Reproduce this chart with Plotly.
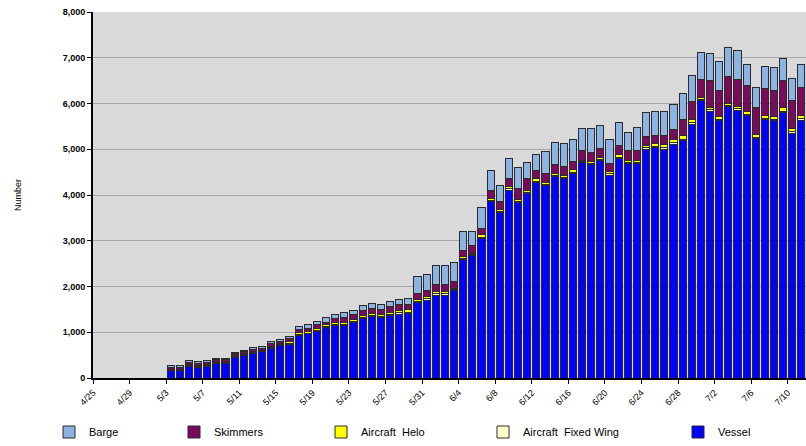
import pandas as pd
import plotly.graph_objects as go

days = (["5/%d" % d for d in range(3, 32)] + ["6/%d" % d for d in range(1, 31)]
        + ["7/%d" % d for d in range(1, 12)])

vessel = [160, 160, 248, 233, 262, 321, 321, 452, 488, 539, 576, 649, 707, 743, 940,
          962, 1027, 1107, 1137, 1151, 1209, 1304, 1341, 1319, 1362, 1399, 1414, 1647, 1690,
          1814, 1814, 1909, 2594, 2674, 3053, 3854, 3614, 4109, 3832, 4036, 4277, 4211, 4401,
          4364, 4474, 4707, 4670, 4765, 4437, 4802, 4692, 4692, 4998, 5042, 4998, 5108, 5188,
          5545, 6055,
          5836, 5625, 5931, 5858, 5741, 5231, 5654, 5625, 5800, 5348, 5639]
fixed_wing = [14, 14, 16, 15, 15, 14, 14, 14, 15, 15, 14, 17, 16, 18, 16,
              17, 21, 21, 25, 25, 25, 21, 25, 25, 25, 30, 25, 25, 37,
              25, 25, 18, 20, 18, 25, 23, 25, 23, 25, 25, 28, 25, 25,
              23, 25, 20, 23, 20, 25, 25, 25, 25, 30, 25, 39, 33, 36,
              33, 28,
              28, 30, 25, 30, 28, 30, 28, 30, 36, 36, 36]
helo = [20, 20, 25, 24, 22, 20, 20, 20, 24, 24, 20, 28, 26, 32, 28,
        28, 38, 38, 48, 48, 48, 38, 48, 48, 48, 57, 48, 48, 65,
        48, 48, 33, 38, 33, 48, 43, 48, 43, 48, 48, 52, 48, 48,
        43, 48, 38, 43, 38, 48, 48, 48, 48, 57, 48, 70, 62, 66,
        62, 52,
        52, 57, 48, 57, 52, 57, 52, 57, 66, 66, 66]
skimmers = [45, 45, 55, 50, 48, 45, 45, 45, 50, 50, 45, 60, 58, 66, 73,
            66, 73, 58, 87, 95, 102, 109, 109, 109, 124, 124, 124, 131, 131,
            160, 160, 146, 131, 168, 146, 175, 168, 175, 240, 255, 189, 189, 197,
            189, 182, 204, 197, 197, 182, 197, 197, 197, 189, 189, 197, 219, 364,
            401, 379,
            576, 583, 583, 583, 583, 597, 597, 583, 597, 605, 612]
barge = [30, 30, 35, 35, 32, 30, 30, 30, 35, 35, 30, 40, 38, 45, 73,
         87, 87, 102, 102, 109, 102, 102, 109, 109, 109, 109, 117, 364, 350,
         408, 408, 415, 415, 306, 452, 437, 342, 437, 452, 357, 350, 488, 481,
         510, 488, 488, 510, 510, 525, 517, 401, 517, 525, 525, 532, 561, 554,
         568, 590,
         605, 634, 641, 641, 444, 437, 481, 488, 481, 481, 503]

dates = pd.to_datetime(["2010/" + d for d in days], format="%Y/%m/%d")

FONT = "Liberation Sans, Arial, sans-serif"
LINE = dict(color="#2b2b2b", width=1)

series = [
    ("Vessel", vessel, "#0000FF", "legend5", 718),
    ("Aircraft\u00a0 Fixed Wing", fixed_wing, "#FFFFCC", "legend4", 523),
    ("Aircraft\u00a0 Helo", helo, "#FFFF00", "legend3", 361),
    ("Skimmers", skimmers, "#7A0A5C", "legend2", 214),
    ("Barge", barge, "#8DB3E2", "legend", 89),
]

fig = go.Figure()
for name, vals, color, leg, _ in series:
    fig.add_trace(go.Bar(
        x=dates, y=vals, name=name, legend=leg, showlegend=True,
        xperiod=86400000, xperiodalignment="middle",
        marker=dict(color=color, line=LINE),
    ))

# plot area in window pixels
L, R, T, B = 93, 806, 12, 378
W, H = R - L, B - T

layout_legends = {}
for name, vals, color, leg, text_x in series:
    layout_legends[leg] = dict(
        x=(text_x - 40 - L) / W, xanchor="left",
        y=(B - 432) / H, yanchor="middle",
        orientation="h", bgcolor="rgba(0,0,0,0)",
        font=dict(family=FONT, size=11, color="#000000"),
        itemwidth=30, itemclick=False, visible=True,
    )

fig.update_layout(
    width=806, height=446,
    margin=dict(l=L, r=806 - R, t=T, b=446 - B, autoexpand=False),
    showlegend=True,
    barmode="stack", bargap=0.22,
    plot_bgcolor="#D9D9D9", paper_bgcolor="#FFFFFF",
    font=dict(family=FONT, size=9, color="#000000"),
    **layout_legends,
)
fig.update_xaxes(
    type="date",
    range=["2010-04-25", "2010-07-12"],
    tick0="2010-04-25", dtick=4 * 86400000, tickformat="%-m/%-d",
    tickangle=-45, tickfont=dict(size=9, family=FONT),
    showline=True, linecolor="#000000", linewidth=2,
    ticks="outside", ticklen=4, tickcolor="#000000",
    showgrid=False, zeroline=False,
)
fig.update_yaxes(
    range=[0, 8000], dtick=1000, tickformat=",",
    tickfont=dict(size=9, family=FONT, weight="bold"),
    ticklabeloverflow="allow",
    showline=True, linecolor="#000000", linewidth=2,
    ticks="outside", ticklen=4, tickcolor="#000000",
    gridcolor="#A6A6A6", gridwidth=1, zeroline=False,
    title=dict(text="Number", font=dict(size=9, family=FONT), standoff=40),
)

fig.write_html(
    "out.html",
    config={"displayModeBar": False},
    post_script="document.body.style.margin='0';"
                "document.documentElement.style.overflow='hidden';",
)
